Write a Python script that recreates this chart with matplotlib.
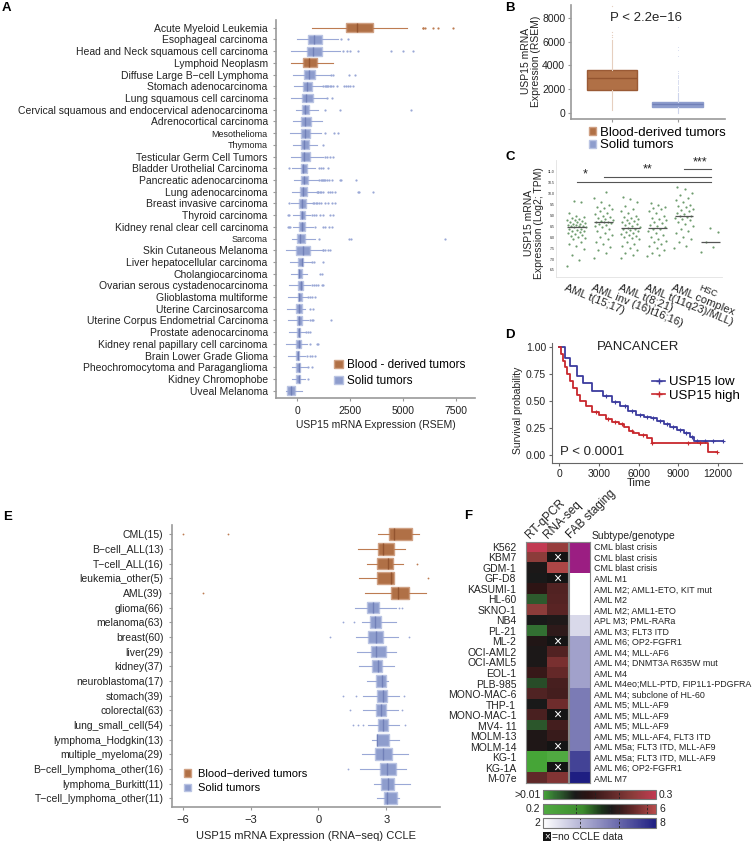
import numpy as np
import matplotlib
matplotlib.use('Agg')
import matplotlib.pyplot as plt
import matplotlib.transforms as mtransforms
from matplotlib.colors import LinearSegmentedColormap, Normalize
from matplotlib.patches import Patch, Rectangle
from matplotlib.lines import Line2D
from matplotlib.cm import ScalarMappable

plt.rcParams['font.family'] = ['Liberation Sans', 'DejaVu Sans']

# ---------------- data ----------------
# A: TCGA, USP15 RSEM boxplot stats
a_names = ['Acute Myeloid Leukemia', 'Esophageal carcinoma', 'Head and Neck squamous cell carcinoma',
           'Lymphoid Neoplasm', 'Diffuse Large B\u2212cell Lymphoma', 'Stomach adenocarcinoma',
           'Lung squamous cell carcinoma', 'Cervical squamous and endocervical adenocarcinoma',
           'Adrenocortical carcinoma', 'Mesothelioma', 'Thymoma', 'Testicular Germ Cell Tumors',
           'Bladder Urothelial Carcinoma', 'Pancreatic adenocarcinoma', 'Lung adenocarcinoma',
           'Breast invasive carcinoma', 'Thyroid carcinoma', 'Kidney renal clear cell carcinoma',
           'Sarcoma', 'Skin Cutaneous Melanoma', 'Liver hepatocellular carcinoma', 'Cholangiocarcinoma',
           'Ovarian serous cystadenocarcinoma', 'Glioblastoma multiforme', 'Uterine Carcinosarcoma',
           'Uterine Corpus Endometrial Carcinoma', 'Prostate adenocarcinoma',
           'Kidney renal papillary cell carcinoma', 'Brain Lower Grade Glioma',
           'Pheochromocytoma and Paraganglioma', 'Kidney Chromophobe', 'Uveal Melanoma']
a_small = ['Mesothelioma', 'Thymoma', 'Sarcoma']
a_blood = [0, 3]
a_lo = [677, -30, -299, -315, -189, -158, -315, -63, -221, -347, -189, -299, -268, -158, -268, -300,
        -200, -189, -268, -536, -347, -299, -378, -425, -473, -425, -378, -536, -425, -268, -268, -536]
a_q1 = [2300, 520, 441, 252, 331, 284, 236, 221, 158, 173, 173, 158, 158, 173, 126, 79,
        126, 95, -32, -63, 16, 16, 16, 16, -79, -32, -32, -63, -79, -63, -63, -473]
a_med = [2835, 803, 724, 567, 551, 441, 410, 378, 362, 362, 331, 331, 284, 331, 252, 205,
         205, 205, 126, 284, 205, 95, 173, 95, 95, 95, 79, 79, 16, 63, 63, -315]
a_q3 = [3560, 1149, 1149, 945, 835, 677, 725, 567, 630, 599, 551, 599, 473, 520, 441, 394,
        362, 362, 362, 600, 284, 205, 284, 205, 205, 205, 126, 173, 95, 126, 126, -110]
a_hi = [5166, 1937, 2016, 1701, 1544, 1197, 1355, 992, 1150, 1103, 914, 1229, 835, 992, 866, 677,
        599, 756, 835, 1150, 677, 441, 599, 441, 362, 520, 362, 441, 362, 441, 362, 205]
a_out = [[5922, 5960, 6032, 6426, 6662, 7340], [2063, 2410],
         [2174, 2363, 2489, 2882, 4410, 5009, 5450], [], [1591, 1701, 2457, 2725],
         [1229, 1290, 1340, 1400, 1465, 1530, 1591, 1701, 1860, 2205, 2300, 2390, 2489, 2646],
         [1418, 1622], [1307, 2016, 5355], [], [1307, 1732, 1937], [1197], [1307, 1418, 1544, 1701],
         [-394, 1024, 1103, 1197, 1465],
         [1040, 1100, 1150, 1200, 1260, 1330, 1400, 1500, 1650, 2000, 2080, 2772],
         [914, 960, 1000, 1060, 1120, 1200, 1465, 1550, 1650, 1800, 2882, 2930, 3591],
         [-394, 725, 790, 860, 940, 1030, 1130, 1300, 1465, 1622, 1780],
         [-457, -394, 700, 800, 900, 1071, 1229, 1544, 1701],
         [-457, -394, -330, 835, 1229, 1300, 1500, 1622], [1040, 2450, 2530, 6977],
         [1197, 1229, 1307, 1465, 1544], [700, 800, 1229], [1071, 1150],
         [677, 800, 900, 1000, 1150, 1229], [520, 600, 700, 835], [599, 756],
         [599, 700, 756, 1591], [394, 500, 599], [599, 914, 992], [441, 600, 700, 835],
         [520, 677], [520], []]

# B: blood-derived vs solid tumours (RSEM)
b_groups = ['Blood-derived tumors', 'Solid tumors']
b_lo = [229, 0]
b_q1 = [1924, 458]
b_med = [2915, 700]
b_q3 = [3619, 932]
b_hi = [6161, 1650]
b_out = [[6400, 6600, 6864, 9042],
         [1700, 1800, 1900, 2000, 2100, 2200, 2300, 2400, 2500, 2600, 2700, 2800, 2900, 3000,
          3100, 3200, 3350, 3500, 4800, 5300, 5600, 7300]]

# C: AML subtypes vs HSC (log2 TPM)
c_labels = ['AML t(15;17)', 'AML inv (16)t16;16)', 'AML t(8;21)', 'AML t(11q23)/MLL)',
            'AML complex', 'HSC']
c_vals = [
    [9.65, 9.63, 9.1, 9.0, 8.95, 8.9, 8.85, 8.8, 8.8, 8.75, 8.7, 8.7, 8.65, 8.6, 8.6, 8.55, 8.55,
     8.5, 8.5, 8.5, 8.45, 8.45, 8.4, 8.4, 8.35, 8.3, 8.3, 8.25, 8.2, 8.15, 8.1, 8.05, 8.0, 7.95,
     7.9, 7.8, 7.7, 7.6, 7.45, 7.2, 6.95, 6.68],
    [10.1, 9.8, 9.6, 9.5, 9.4, 9.35, 9.3, 9.2, 9.1, 9.05, 9.0, 8.95, 8.9, 8.85, 8.8, 8.75, 8.7,
     8.7, 8.68, 8.65, 8.6, 8.55, 8.5, 8.45, 8.4, 8.3, 8.2, 8.1, 8.0, 7.9, 7.8, 7.7, 7.55, 7.4,
     7.3, 7.05],
    [9.87, 9.75, 9.6, 9.45, 9.3, 9.2, 9.1, 9.0, 8.95, 8.9, 8.85, 8.8, 8.75, 8.7, 8.65, 8.6, 8.55,
     8.5, 8.45, 8.42, 8.4, 8.38, 8.35, 8.3, 8.25, 8.2, 8.15, 8.1, 8.05, 8.0, 7.95, 7.9, 7.8, 7.7,
     7.6, 7.5, 7.4, 7.3, 7.2, 7.05],
    [9.58, 9.5, 9.4, 9.35, 9.3, 9.2, 9.1, 9.0, 8.9, 8.85, 8.8, 8.7, 8.65, 8.55, 8.5, 8.45, 8.4,
     8.38, 8.3, 8.2, 8.1, 8.0, 7.9, 7.85, 7.8, 7.7, 7.6, 7.5, 7.4, 7.3, 7.2, 7.12],
    [10.33, 10.2, 10.05, 9.95, 9.8, 9.7, 9.6, 9.5, 9.45, 9.4, 9.3, 9.25, 9.2, 9.1, 9.05, 9.0,
     8.98, 8.95, 8.9, 8.85, 8.8, 8.7, 8.6, 8.5, 8.4, 8.3, 8.2, 8.0, 7.9, 7.8, 7.6, 7.5],
    [8.42, 8.25, 7.8, 7.55, 7.34]]
c_sig = [(1, 6, 10.56, '*', 1.31), (2, 6, 10.78, '**', 3.66), (5, 6, 11.12, '***', 5.6)]

# D: Kaplan-Meier, PANCANCER
km_low_t = [0, 400, 800, 1300, 1800, 2500, 3300, 4000, 4600, 5200, 5800, 6400, 6900, 7400, 7900,
            8400, 8900, 9400, 9900, 10200, 12400]
km_low_s = [1.0, 0.90, 0.82, 0.73, 0.66, 0.59, 0.54, 0.49, 0.45, 0.41, 0.37, 0.355, 0.34, 0.31,
            0.29, 0.26, 0.23, 0.20, 0.17, 0.125, 0.125]
km_high_t = [0, 150, 300, 450, 600, 800, 1000, 1300, 1600, 2000, 2500, 3000, 3500, 4000, 4500,
             4900, 5300, 5600, 6000, 6600, 7000, 11250, 11900]
km_high_s = [1.0, 0.93, 0.87, 0.81, 0.75, 0.68, 0.62, 0.555, 0.50, 0.45, 0.40, 0.365, 0.33, 0.305,
             0.285, 0.26, 0.22, 0.20, 0.18, 0.16, 0.11, 0.03, 0.03]
km_low_cens = [3500, 4200, 5000, 5500, 6100, 6600, 7100, 7600, 8100, 8600, 9100, 9600, 10000,
               10400, 11000, 11600, 12400]
km_high_cens = [2800, 3700, 4200, 4700, 5500, 6300, 7000, 9700, 10600, 11900]

# E: CCLE RNA-seq
e_names = ['CML(15)', 'B\u2212cell_ALL(13)', 'T\u2212cell_ALL(16)', 'leukemia_other(5)', 'AML(39)',
           'glioma(66)', 'melanoma(63)', 'breast(60)', 'liver(29)', 'kidney(37)',
           'neuroblastoma(17)', 'stomach(39)', 'colorectal(63)', 'lung_small_cell(54)',
           'lymphoma_Hodgkin(13)', 'multiple_myeloma(29)', 'B\u2212cell_lymphoma_other(16)',
           'lymphoma_Burkitt(11)', 'T\u2212cell_lymphoma_other(11)']
e_blood = [0, 1, 2, 3, 4]
e_lo = [2.65, 1.77, 2.17, 1.81, 2.04, 1.62, 1.92, 1.66, 1.73, 1.81, 2.14, 1.99, 1.99, 2.21, 2.36,
        1.92, 1.84, 2.48, 2.61]
e_q1 = [3.14, 2.65, 2.61, 2.58, 3.20, 2.17, 2.29, 2.21, 2.32, 2.39, 2.55, 2.61, 2.55, 2.65, 2.58,
        2.51, 2.73, 2.76, 2.92]
e_med = [3.35, 2.85, 3.10, 3.20, 3.50, 2.43, 2.51, 2.55, 2.55, 2.65, 2.80, 2.85, 2.76, 2.88, 2.61,
         2.85, 3.02, 3.10, 3.02]
e_q3 = [4.13, 3.35, 3.29, 3.36, 4.03, 2.70, 2.76, 2.85, 2.98, 2.83, 2.99, 3.05, 2.99, 3.07, 3.13,
        3.24, 3.42, 3.36, 3.47]
e_hi = [4.47, 3.85, 3.73, 3.36, 4.75, 3.42, 3.42, 3.54, 3.44, 3.36, 3.07, 3.58, 3.54, 3.58, 3.58,
        3.98, 3.86, 4.06, 3.57]
e_out = [[-5.97, -4.01], [], [4.35], [4.87], [-5.09], [3.58, 3.69], [1.08, 1.58], [0.52, 4.03],
         [], [], [], [1.11, 1.67, 3.79], [1.40, 3.72], [1.52, 1.74, 1.99, 3.83], [], [], [1.30],
         [], []]

# F: AML cell line heatmap
f_lines = ['K562', 'KBM7', 'GDM-1', 'GF-D8', 'KASUMI-1', 'HL-60', 'SKNO-1', 'NB4', 'PL-21', 'ML-2',
           'OCI-AML2', 'OCI-AML5', 'EOL-1', 'PLB-985', 'MONO-MAC-6', 'THP-1', 'MONO-MAC-1',
           'MV4- 11', 'MOLM-13', 'MOLM-14', 'KG-1', 'KG-1A', 'M-07e']
f_subtype = ['CML blast crisis', 'CML blast crisis', 'CML blast crisis', 'AML M1',
             'AML M2; AML1-ETO, KIT mut', 'AML M2', 'AML M2; AML1-ETO', 'APL M3; PML-RARa',
             'AML M3; FLT3 ITD', 'AML M6; OP2-FGFR1', 'AML M4; MLL-AF6',
             'AML M4; DNMT3A R635W mut', 'AML M4', 'AML M4eo;MLL-PTD, FIP1L1-PDGFRA',
             'AML M4; subclone of HL-60', 'AML M5; MLL-AF9', 'AML M5; MLL-AF9', 'AML M5; MLL-AF9',
             'AML M5; MLL-AF4, FLT3 ITD', 'AML M5a; FLT3 ITD, MLL-AF9',
             'AML M5a; FLT3 ITD, MLL-AF9', 'AML M6; OP2-FGFR1', 'AML M7']
f_qpcr = [0.300, 0.242, 0.097, 0.091, 0.126, 0.054, 0.242, 0.091, 0.039, 0.106, 0.097, 0.097,
          0.140, 0.062, 0.170, 0.091, 0.161, 0.056, 0.103, 0.103, 0.010, 0.010, 0.190]
f_rnaseq = [5.54, None, 5.83, None, 4.55, 4.61, 4.67, 3.80, 4.03, None, 4.55, 5.13, 4.84, 4.43,
            4.38, 4.96, None, 4.38, 4.20, None, 0.2, None, 5.25]
f_fab = [None, None, None, 2, 2, 2, 2, 3, 3, 4.5, 4.5, 4.5, 4.5, 4.5, 5.5, 5.5, 5.5, 5.5, 5.5,
         5.5, 7, 7, 8]

# ---------------- styling ----------------
W, H = 752, 842
fig = plt.figure(figsize=(W / 100, H / 100), dpi=100)

BLOOD, BLOOD_EDGE, BLOOD_MED, BLOOD_WH = '#B07046', '#CFA083', '#93542F', '#BD7C52'
SOLID, SOLID_EDGE, SOLID_MED, SOLID_WH = '#8E9DCD', '#BAC4E3', '#7180B8', '#9AA8D6'
TXT = '#222222'
AXC = '#999999'


def add_ax(l, t, r, b):
    return fig.add_axes([l / W, 1 - b / H, (r - l) / W, (b - t) / H])


def style(ax, color=AXC, lw=1.2):
    for s in ['top', 'right']:
        ax.spines[s].set_visible(False)
    for s in ['left', 'bottom']:
        ax.spines[s].set_color(color)
        ax.spines[s].set_linewidth(lw)
    ax.tick_params(color=color, length=2.5, width=0.8, labelcolor=TXT)


def boxes(ax, idx, lo, q1, med, q3, hi, out, cols, width, orient, fsize=1.6):
    face, edge, medc, whc = cols
    stats = [dict(whislo=lo[i], q1=q1[i], med=med[i], q3=q3[i], whishi=hi[i], fliers=out[i])
             for i in idx]
    ax.bxp(stats, positions=idx, widths=width, orientation=orient, patch_artist=True,
           showcaps=False, manage_ticks=False,
           boxprops=dict(facecolor=face, edgecolor=edge, linewidth=1.0),
           medianprops=dict(color=medc, linewidth=1.0),
           whiskerprops=dict(color=whc, linewidth=0.8),
           flierprops=dict(marker='o', markersize=fsize, markerfacecolor=whc,
                           markeredgecolor='none'))


def letter(x, y, s):
    fig.text(x / W, 1 - y / H, s, fontsize=9.5, fontweight='bold', va='center', ha='left')


# ---------------- A ----------------
axA = add_ax(276, 20, 475, 398)
posA = list(range(len(a_names)))
solidA = [i for i in posA if i not in a_blood]
boxes(axA, a_blood, a_lo, a_q1, a_med, a_q3, a_hi, a_out,
      (BLOOD, BLOOD_EDGE, BLOOD_MED, BLOOD_WH), 0.75, 'horizontal')
boxes(axA, solidA, a_lo, a_q1, a_med, a_q3, a_hi, a_out,
      (SOLID, SOLID_EDGE, SOLID_MED, SOLID_WH), 0.75, 'horizontal')
axA.set_ylim(31.62, -0.66)
axA.set_xlim(-1007, 8398)
axA.set_yticks(posA)
axA.set_yticklabels(a_names, fontsize=7.5)
for lab, name in zip(axA.get_yticklabels(), a_names):
    if name in a_small:
        lab.set_fontsize(6.5)
axA.set_xticks([0, 2500, 5000, 7500])
axA.tick_params(axis='x', labelsize=7.5)
axA.set_xlabel('USP15 mRNA Expression (RSEM)', fontsize=7.5, color=TXT, labelpad=3)
style(axA)
axA.legend(handles=[Patch(facecolor=BLOOD, edgecolor=BLOOD_EDGE, label='Blood - derived tumors'),
                    Patch(facecolor=SOLID, edgecolor=SOLID_EDGE, label='Solid tumors')],
           loc='upper left', bbox_to_anchor=(0.27, 0.115), frameon=False, fontsize=8.5,
           handlelength=0.7, handleheight=0.7, handletextpad=0.4, labelspacing=0.3,
           borderaxespad=0)
letter(2, 8, 'A')

# ---------------- B ----------------
axB = add_ax(570.7, 5, 725, 119)
boxes(axB, [0], b_lo, b_q1, b_med, b_q3, b_hi, b_out,
      (BLOOD, '#9A5A35', BLOOD_MED, '#E6CFBF'), 0.76, 'vertical', fsize=0.9)
boxes(axB, [1], b_lo, b_q1, b_med, b_q3, b_hi, b_out,
      (SOLID, SOLID, SOLID_MED, '#CDD4EC'), 0.76, 'vertical', fsize=0.7)
axB.set_xlim(-0.621, 1.72)
axB.set_ylim(-534, 9127)
axB.set_xticks([0, 1])
axB.set_xticklabels([])
axB.set_yticks([0, 2000, 4000, 6000, 8000])
axB.tick_params(axis='y', labelsize=7.5, pad=1.5)
style(axB)
axB.set_ylabel('USP15 mRNA\nExpression (RSEM)', fontsize=7.5, color=TXT, linespacing=1.0)
axB.yaxis.set_label_coords(-0.19, 0.51)
axB.text(0.49, 0.886, 'P < 2.2e\u221216', transform=axB.transAxes, ha='center', va='center',
         fontsize=9.5, color=TXT)
axB.legend(handles=[Patch(facecolor=BLOOD, edgecolor=BLOOD_EDGE, label=b_groups[0]),
                    Patch(facecolor=SOLID, edgecolor=SOLID_EDGE, label=b_groups[1])],
           loc='upper left', bbox_to_anchor=(0.085, -0.02), frameon=False, fontsize=9.5,
           handlelength=0.55, handleheight=0.55, handletextpad=0.25, labelspacing=0.05,
           borderaxespad=0)
letter(505, 8, 'B')

# ---------------- C ----------------
axC = add_ax(556, 160, 722, 276.7)
GREEN = '#6E9C6E'
for g, vals in enumerate(c_vals):
    v = np.array(sorted(vals))
    jit = (((np.arange(len(v)) * 0.618034) % 1.0) - 0.5) * 0.72
    axC.scatter(g + 1 + jit, v, s=2.5, color=GREEN, linewidths=0, zorder=3)
    axC.hlines(np.median(v), g + 1 - 0.35, g + 1 + 0.35, color='#555555', lw=0.9, zorder=4)
for x0, x1, yv, star, xs in c_sig:
    axC.plot([x0, x1], [yv, yv], color='#555555', lw=0.8)
    axC.text(xs, yv + 0.05, star, ha='center', va='bottom', fontsize=9, color=TXT)
axC.set_xlim(0.228, 6.42)
axC.set_ylim(6.19, 11.55)
yt = np.arange(6.5, 11.01, 0.5)
axC.set_yticks(yt)
axC.set_yticklabels(['%.1f' % t for t in yt], fontsize=2.5, color='#888888')
axC.set_xticks([])
style(axC, color='#E2E2E2', lw=0.6)
axC.tick_params(axis='y', length=0, pad=1)
axC.set_ylabel('USP15 mRNA\nExpression (Log2; TPM)', fontsize=7.5, color=TXT, linespacing=1.0)
axC.yaxis.set_label_coords(-0.07, 0.46)
off = mtransforms.ScaledTranslation(-0.10, 0, fig.dpi_scale_trans)
trC = mtransforms.blended_transform_factory(axC.transData, axC.transAxes) + off
for g, lab in enumerate(c_labels):
    axC.text(g + 1, -0.055, lab, transform=trC, rotation=-22, rotation_mode='anchor',
             ha='left', va='top', fontsize=6.5 if lab == 'HSC' else 8, color=TXT)
letter(505, 157, 'C')

# ---------------- D ----------------
axD = add_ax(551.7, 343, 741.7, 463.3)
KM_BLUE, KM_RED = '#3B3B9E', '#C8282D'


def surv_at(ts, ss, t):
    i = np.searchsorted(ts, t, side='right') - 1
    return np.array(ss)[i]


for ts, ss, cens, col in [(km_low_t, km_low_s, km_low_cens, KM_BLUE),
                          (km_high_t, km_high_s, km_high_cens, KM_RED)]:
    axD.step(ts, ss, where='post', color=col, lw=1.3)
    axD.plot(cens, surv_at(ts, ss, cens), '+', color=col, ms=3.5, mew=0.8)
axD.set_xlim(-574, 13780)
axD.set_ylim(-0.077, 1.034)
axD.set_xticks([0, 3000, 6000, 9000, 12000])
axD.set_yticks([0, 0.25, 0.5, 0.75, 1.0])
axD.set_yticklabels(['0.00', '0.25', '0.50', '0.75', '1.00'])
axD.tick_params(labelsize=7.5, pad=1.5)
style(axD, color='#666666', lw=0.8)
axD.set_xlabel('Time', fontsize=8, color=TXT)
axD.xaxis.set_label_coords(0.46, -0.125)
axD.set_ylabel('Survival probability', fontsize=7.5, color=TXT)
axD.yaxis.set_label_coords(-0.15, 0.44)
axD.text(0.457, 0.97, 'PANCANCER', transform=axD.transAxes, ha='center', va='center',
         fontsize=9.5, color=TXT)
axD.text(0.044, 0.096, 'P < 0.0001', transform=axD.transAxes, ha='left', va='center',
         fontsize=9.5, color=TXT)
axD.legend(handles=[Line2D([], [], color=KM_BLUE, marker='+', ms=4, lw=1.2, label='USP15 low'),
                    Line2D([], [], color=KM_RED, marker='+', ms=4, lw=1.2, label='USP15 high')],
           loc='upper left', bbox_to_anchor=(0.5, 0.77), frameon=False, fontsize=9.5,
           handlelength=1.0, handletextpad=0.3, labelspacing=0.1, borderaxespad=0)
letter(505, 335, 'D')

# ---------------- E ----------------
axE = add_ax(171.7, 525, 440, 806.7)
posE = list(range(len(e_names)))
solidE = [i for i in posE if i not in e_blood]
boxes(axE, e_blood, e_lo, e_q1, e_med, e_q3, e_hi, e_out,
      (BLOOD, BLOOD_EDGE, BLOOD_MED, BLOOD_WH), 0.8, 'horizontal', fsize=1.3)
boxes(axE, solidE, e_lo, e_q1, e_med, e_q3, e_hi, e_out,
      (SOLID, SOLID_EDGE, SOLID_MED, SOLID_WH), 0.8, 'horizontal', fsize=1.3)
axE.set_ylim(18.57, -0.63)
axE.set_xlim(-6.49, 5.38)
axE.set_yticks(posE)
axE.set_yticklabels(e_names, fontsize=7.5)
axE.set_xticks([-6, -3, 0, 3])
axE.tick_params(axis='x', labelsize=8)
style(axE)
axE.set_xlabel('USP15 mRNA Expression (RNA\u2212seq) CCLE', fontsize=8, color=TXT, labelpad=4)
axE.legend(handles=[Patch(facecolor=BLOOD, edgecolor=BLOOD_EDGE, label='Blood\u2212derived tumors'),
                    Patch(facecolor=SOLID, edgecolor=SOLID_EDGE, label='Solid tumors')],
           loc='upper left', bbox_to_anchor=(0.03, 0.15), frameon=False, fontsize=8,
           handlelength=0.6, handleheight=0.6, handletextpad=0.6, labelspacing=0.4,
           borderaxespad=0)
letter(3, 517, 'E')

# ---------------- F ----------------
cm_qpcr = LinearSegmentedColormap.from_list('qpcr', [
    (0.0, '#46A537'), (0.1, '#326E32'), (0.15, '#2D5A2D'), (0.28, '#191919'), (0.4, '#2D1414'),
    (0.55, '#502323'), (0.8, '#8C3C3A'), (1.0, '#C23A52')])
cm_rna = LinearSegmentedColormap.from_list('rna', [
    (0.0, '#50AA41'), (0.35, '#3C8C2D'), (0.52, '#193219'), (0.6, '#191919'), (0.7, '#3C1C1C'),
    (0.8, '#642828'), (1.0, '#B94B4B')])
cm_rna.set_bad('#141414')
cm_fab = LinearSegmentedColormap.from_list('fab', ['#FFFFFF', '#1E1E82'])
cm_fab.set_bad('#9B1E82')
n_qpcr, n_rna, n_fab = Normalize(0.01, 0.3), Normalize(0.2, 6), Normalize(2, 8)
nrow = len(f_lines)
rna = np.array([np.nan if v is None else v for v in f_rnaseq], float)
fab = np.array([np.nan if v is None else v for v in f_fab], float)

axF = add_ax(526, 541.7, 568, 783.3)
axF.imshow(np.array(f_qpcr)[:, None], cmap=cm_qpcr, norm=n_qpcr, aspect='auto',
           extent=(-0.5, 0.5, nrow - 0.5, -0.5), interpolation='nearest')
axF.imshow(np.ma.masked_invalid(rna)[:, None], cmap=cm_rna, norm=n_rna, aspect='auto',
           extent=(0.5, 1.5, nrow - 0.5, -0.5), interpolation='nearest')
for i, v in enumerate(rna):
    if np.isnan(v):
        axF.text(1, i, '\u00d7', color='white', ha='center', va='center', fontsize=10)
axF.set_xlim(-0.5, 1.5)
axF.set_ylim(nrow - 0.5, -0.5)
axF.set_xticks([])
axF.set_yticks(range(nrow))
axF.set_yticklabels(f_lines, fontsize=7.5, color=TXT)
axF.tick_params(axis='y', length=0, pad=7)
for s in axF.spines.values():
    s.set_color('#888888')
    s.set_linewidth(0.8)
for x, lab in [(-0.22, 'RT-qPCR'), (0.65, 'RNA-seq')]:
    axF.text(x, -0.6, lab, rotation=45, rotation_mode='anchor', ha='left', va='bottom',
             fontsize=8.5, color=TXT)

axG = add_ax(569, 541.7, 590, 783.3)
axG.imshow(np.ma.masked_invalid(fab)[:, None], cmap=cm_fab, norm=n_fab, aspect='auto',
           extent=(-0.5, 0.5, nrow - 0.5, -0.5), interpolation='nearest')
axG.set_xlim(-0.5, 0.5)
axG.set_ylim(nrow - 0.5, -0.5)
axG.set_xticks([])
axG.yaxis.tick_right()
axG.set_yticks(range(nrow))
axG.set_yticklabels(f_subtype, fontsize=6.4, color=TXT)
axG.tick_params(axis='y', length=0, pad=3)
for s in axG.spines.values():
    s.set_color('#888888')
    s.set_linewidth(0.8)
axG.text(-0.3, -0.6, 'FAB staging', rotation=45, rotation_mode='anchor', ha='left',
         va='bottom', fontsize=8.5, color=TXT)
fig.text(592 / W, 1 - 536 / H, 'Subtype/genotype', fontsize=7.5, color=TXT, va='center')

cbars = [(790, 799.3, cm_qpcr, n_qpcr, '>0.01', '0.3', [0.46, 0.67]),
         (804, 814, cm_rna, n_rna, '0.2', '6', [0.29, 0.59, 0.67, 0.92]),
         (818.3, 827.7, cm_fab, n_fab, '2', '8', [0.33, 0.67])]
for top, bot, cmap, norm, lo_lab, hi_lab, dash in cbars:
    cax = add_ax(543.3, top, 656, bot)
    cb = fig.colorbar(ScalarMappable(norm=norm, cmap=cmap), cax=cax, orientation='horizontal')
    cb.set_ticks([])
    cb.outline.set_edgecolor('#777777')
    cb.outline.set_linewidth(0.8)
    for f in dash:
        cax.axvline(norm.vmin + f * (norm.vmax - norm.vmin), color='#222222', lw=0.6,
                    ls=(0, (3, 2)))
    ymid = 1 - (top + bot) / 2 / H
    fig.text(540.5 / W, ymid, lo_lab, ha='right', va='center', fontsize=7.5, color=TXT)
    fig.text(659 / W, ymid, hi_lab, ha='left', va='center', fontsize=7.5, color=TXT)

fig.patches.append(Rectangle((543 / W, 1 - 841 / H), 8 / W, 9 / H, transform=fig.transFigure,
                             facecolor='#141414', edgecolor='none'))
fig.text(547 / W, 1 - 836.5 / H, '\u00d7', color='white', ha='center', va='center', fontsize=7)
fig.text(551.5 / W, 1 - 836.5 / H, '=no CCLE data', ha='left', va='center', fontsize=7.5,
         color=TXT)
letter(464, 516, 'F')

fig.savefig('out.png', dpi=100, facecolor='white')
